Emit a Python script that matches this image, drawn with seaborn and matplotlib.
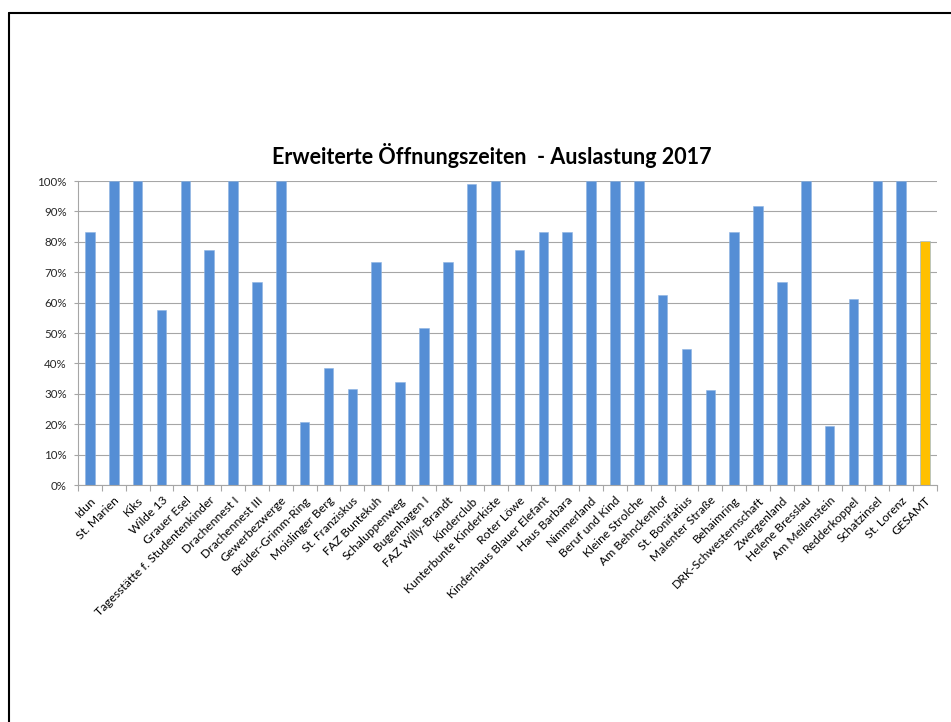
import matplotlib
matplotlib.use("Agg")
import matplotlib.pyplot as plt
import seaborn as sns
import pandas as pd
from matplotlib.lines import Line2D
from matplotlib.ticker import PercentFormatter, FixedLocator

categories = [
    "Idun", "St. Marien", "Kiks", "Wilde 13", "Grauer Esel",
    "Tagesstätte f. Studentenkinder", "Drachennest I", "Drachennest III",
    "Gewerbezwerge", "Brüder-Grimm-Ring", "Moislinger Berg", "St. Franziskus",
    "FAZ Buntekuh", "Schaluppenweg", "Bugenhagen I", "FAZ Willy-Brandt",
    "Kinderclub", "Kunterbunte Kinderkiste", "Roter Löwe",
    "Kinderhaus Blauer Elefant", "Haus Barbara", "Nimmerland", "Beruf und Kind",
    "Kleine Strolche", "Am Behnckenhof", "St. Bonifatius", "Malenter Straße",
    "Behaimring", "DRK-Schwesternschaft", "Zwergenland", "Helene Bresslau",
    "Am Meilenstein", "Redderkoppel", "Schatzinsel", "St. Lorenz", "GESAMT",
]
values = [
    83.3, 100, 100, 57.6, 100,
    77.3, 100, 66.7,
    100, 20.8, 38.4, 31.6,
    73.3, 33.9, 51.5, 73.3,
    99.0, 100, 77.3,
    83.3, 83.3, 100, 100,
    100, 62.6, 44.8, 31.3,
    83.3, 91.7, 66.7, 100,
    19.5, 61.2, 100, 100, 80.2,
]
title = "Erweiterte Öffnungszeiten  - Auslastung 2017"

blue = "#558ed5"
gold = "#ffc000"
colors = [gold if c == "GESAMT" else blue for c in categories]

df = pd.DataFrame({"cat": categories, "val": values})

sns.set_style("white")
plt.rcParams["font.family"] = ["Lato", "DejaVu Sans"]

fig = plt.figure(figsize=(9.51, 7.22), dpi=100)
ax = fig.add_axes([78 / 951, 1 - 485 / 722, (937 - 78) / 951, (485 - 181) / 722])

sns.barplot(data=df, x="cat", y="val", hue="cat", palette=colors,
            legend=False, width=0.4, ax=ax, saturation=1,
            edgecolor="#8db3e2", linewidth=0.4)

ax.set_xlim(-0.5, len(categories) - 0.5)
ax.set_ylim(0, 100)
ax.set_yticks(range(0, 101, 10))
ax.yaxis.set_major_formatter(PercentFormatter(decimals=0))
ax.yaxis.grid(True, color="#a6a6a6", linewidth=0.8)
ax.set_axisbelow(True)
ax.set_xlabel("")
ax.set_ylabel("")

for s in ["top", "right"]:
    ax.spines[s].set_visible(False)
for s in ["left", "bottom"]:
    ax.spines[s].set_color("#a6a6a6")
    ax.spines[s].set_linewidth(0.8)

ax.set_xticks(range(len(categories)))
ax.set_xticklabels(categories, rotation=45, ha="right", rotation_mode="anchor",
                   fontsize=8.7, color="#000000")
ax.tick_params(axis="x", which="major", length=0, pad=7)
ax.xaxis.set_minor_locator(FixedLocator([i - 0.5 for i in range(len(categories) + 1)]))
ax.tick_params(axis="x", which="minor", length=4, color="#a6a6a6", width=0.8,
               direction="out", bottom=True)
ax.tick_params(axis="y", length=3, color="#a6a6a6", width=0.8, pad=5,
               labelsize=8.3, left=True)

fig.text(492 / 951, 1 - 156 / 722, title, ha="center", va="center",
         fontsize=15.5, fontweight="bold", color="#000000")

# slide frame (cropped on right and bottom)
fig.add_artist(Line2D([8.5 / 951, 8.5 / 951], [0, 1 - 12.5 / 722],
                      transform=fig.transFigure, color="black", linewidth=1.5))
fig.add_artist(Line2D([8.5 / 951, 1], [1 - 12.5 / 722, 1 - 12.5 / 722],
                      transform=fig.transFigure, color="black", linewidth=1.5))

fig.savefig("out.png", dpi=100)
